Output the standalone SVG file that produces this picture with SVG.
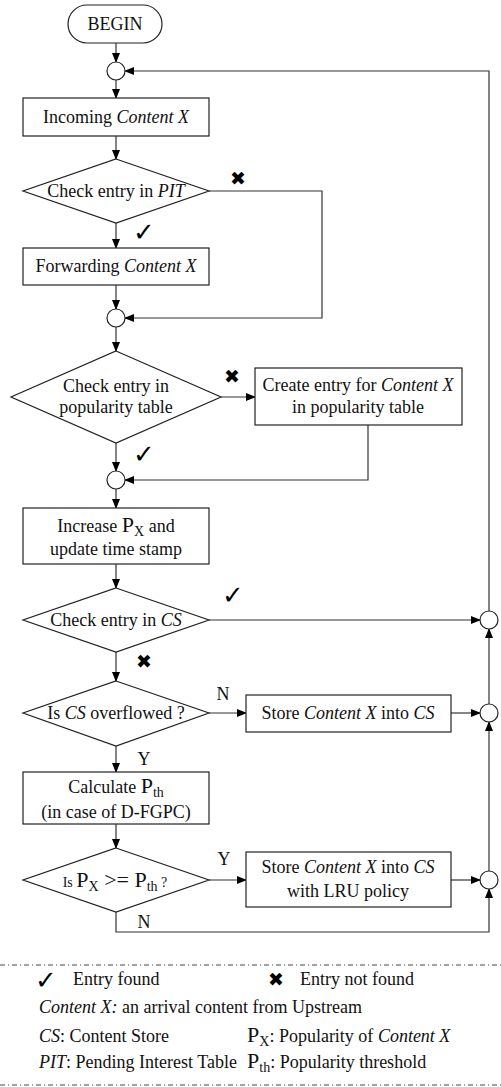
<svg xmlns="http://www.w3.org/2000/svg" width="501" height="1087" viewBox="0 0 501 1087">
<style>
.s{fill:#fff;stroke:#222;stroke-width:1.2}
.c{fill:none;stroke:#333;stroke-width:1.2}
.t{font-family:"Liberation Serif","Times New Roman",serif;font-size:18px;fill:#111}
.m{text-anchor:middle}
.i{font-style:italic}
.sym{font-family:"DejaVu Sans",sans-serif;fill:#000;text-anchor:middle}
.ck{font-size:26px}
.xx{font-size:19px}
.lg{font-size:22px}
.sb{font-size:14px}
.leg{fill:none;stroke:#444;stroke-width:1;stroke-dasharray:5,3,1,3}
</style>
<defs>
<marker id="a" markerWidth="10" markerHeight="8" refX="9" refY="4" orient="auto" markerUnits="userSpaceOnUse">
<path d="M0,0 L10,4 L0,8 z" fill="#000"/>
</marker>
</defs>
<rect width="501" height="1087" fill="#fff"/>

<g id="connectors">
<path class="c" marker-end="url(#a)" d="M116,43 V62"/>
<path class="c" marker-end="url(#a)" d="M116,80 V98"/>
<path class="c" marker-end="url(#a)" d="M116,136 V159"/>
<path class="c" marker-end="url(#a)" d="M116,223 V248"/>
<path class="c" marker-end="url(#a)" d="M209,191 H322 V318 H125"/>
<path class="c" marker-end="url(#a)" d="M116,285 V309"/>
<path class="c" marker-end="url(#a)" d="M116,327 V351"/>
<path class="c" marker-end="url(#a)" d="M221,397 H255"/>
<path class="c" marker-end="url(#a)" d="M368,425 V480 H125"/>
<path class="c" marker-end="url(#a)" d="M116,443 V471"/>
<path class="c" marker-end="url(#a)" d="M116,489 V508"/>
<path class="c" marker-end="url(#a)" d="M116,564 V588"/>
<path class="c" marker-end="url(#a)" d="M209,620 H480"/>
<path class="c" marker-end="url(#a)" d="M116,652 V681"/>
<path class="c" marker-end="url(#a)" d="M209,713 H246"/>
<path class="c" marker-end="url(#a)" d="M451,713 H480"/>
<path class="c" marker-end="url(#a)" d="M489,704 V629"/>
<path class="c" marker-end="url(#a)" d="M116,746 V772"/>
<path class="c" marker-end="url(#a)" d="M116,824 V848"/>
<path class="c" marker-end="url(#a)" d="M209,880 H246"/>
<path class="c" marker-end="url(#a)" d="M451,880 H480"/>
<path class="c" marker-end="url(#a)" d="M489,871 V722"/>
<path class="c" marker-end="url(#a)" d="M116,912 V932 H489 V889"/>
<path class="c" marker-end="url(#a)" d="M489,611 V71 H125"/>
<text class="sym xx" x="238" y="185">✖</text>
<text class="sym ck" x="144" y="241">✓</text>
<text class="sym xx" x="232" y="383">✖</text>
<text class="sym ck" x="144" y="463">✓</text>
<text class="sym ck" x="233" y="604">✓</text>
<text class="sym xx" x="144" y="668">✖</text>
<text class="t m" x="223" y="700">N</text>
<text class="t m" x="144" y="765">Y</text>
<text class="t m" x="224" y="865">Y</text>
<text class="t m" x="144" y="928">N</text>
</g>

<g id="begin">
<rect class="s" x="68" y="5" width="94" height="38" rx="19"/>
<text class="t m" x="115" y="30">BEGIN</text>
</g>
<g id="junction1"><circle class="s" cx="116" cy="71" r="9"/></g>
<g id="incoming">
<rect class="s" x="23" y="98" width="186" height="38"/>
<text class="t m" x="116" y="123">Incoming <tspan class="i">Content X</tspan></text>
</g>
<g id="check-pit">
<polygon class="s" points="116,159 209,191 116,223 23,191"/>
<text class="t m" x="116" y="197">Check entry in <tspan class="i">PIT</tspan></text>
</g>
<g id="forwarding">
<rect class="s" x="23" y="248" width="186" height="37"/>
<text class="t m" x="116" y="272">Forwarding <tspan class="i">Content X</tspan></text>
</g>
<g id="junction2"><circle class="s" cx="116" cy="318" r="9"/></g>
<g id="check-pop">
<polygon class="s" points="116,351 221,397 116,443 11,397"/>
<text class="t m" x="116" y="392">Check entry in</text>
<text class="t m" x="116" y="413">popularity table</text>
</g>
<g id="create-entry">
<rect class="s" x="255" y="368" width="207" height="57"/>
<text class="t m" x="358" y="391">Create entry for <tspan class="i">Content X</tspan></text>
<text class="t m" x="358" y="413">in popularity table</text>
</g>
<g id="junction3"><circle class="s" cx="116" cy="480" r="9"/></g>
<g id="increase">
<rect class="s" x="23" y="508" width="186" height="56"/>
<text class="t m" x="116" y="532">Increase <tspan class="lg">P</tspan><tspan class="sb" dy="4">X</tspan><tspan dy="-4"> and</tspan></text>
<text class="t m" x="116" y="555">update time stamp</text>
</g>
<g id="check-cs">
<polygon class="s" points="116,588 209,620 116,652 23,620"/>
<text class="t m" x="116" y="626">Check entry in <tspan class="i">CS</tspan></text>
</g>
<g id="overflow">
<polygon class="s" points="116,681 209,713 116,746 23,713"/>
<text class="t m" x="116" y="719">Is <tspan class="i">CS</tspan> overflowed ?</text>
</g>
<g id="store1">
<rect class="s" x="246" y="695" width="205" height="37"/>
<text class="t m" x="348" y="719">Store <tspan class="i">Content X</tspan> into <tspan class="i">CS</tspan></text>
</g>
<g id="calc">
<rect class="s" x="23" y="772" width="186" height="52"/>
<text class="t m" x="116" y="793">Calculate <tspan class="lg">P</tspan><tspan class="sb" dy="4">th</tspan></text>
<text class="t m" x="116" y="818">(in case of D-FGPC)</text>
</g>
<g id="compare">
<polygon class="s" points="116,848 209,880 116,912 23,880"/>
<text class="t m" x="115" y="887"><tspan class="sb">Is </tspan><tspan class="lg">P</tspan><tspan class="sb" dy="4">X</tspan><tspan class="lg" dy="-4"> &gt;= P</tspan><tspan class="sb" dy="4">th</tspan><tspan class="sb" dy="-4"> ?</tspan></text>
</g>
<g id="store2">
<rect class="s" x="246" y="852" width="205" height="55"/>
<text class="t m" x="348" y="873">Store <tspan class="i">Content X</tspan> into <tspan class="i">CS</tspan></text>
<text class="t m" x="348" y="897">with LRU policy</text>
</g>
<g id="junctionR1"><circle class="s" cx="489" cy="620" r="9"/></g>
<g id="junctionR2"><circle class="s" cx="489" cy="713" r="9"/></g>
<g id="junctionR3"><circle class="s" cx="489" cy="880" r="9"/></g>

<g id="legend">
<line class="leg" x1="0" y1="965" x2="501" y2="965"/>
<line class="leg" x1="0" y1="1085" x2="501" y2="1085"/>
<text class="sym ck" x="46" y="989">✓</text>
<text class="t" x="73" y="985">Entry found</text>
<text class="sym xx" x="276" y="986">✖</text>
<text class="t" x="300" y="985">Entry not found</text>
<text class="t" x="39" y="1013"><tspan class="i">Content X:</tspan> an arrival content from Upstream</text>
<text class="t" x="39" y="1042"><tspan class="i">CS</tspan>: Content Store</text>
<text class="t" x="247" y="1042"><tspan class="lg">P</tspan><tspan class="sb" dy="4">X</tspan><tspan dy="-4">: Popularity of </tspan><tspan class="i">Content X</tspan></text>
<text class="t" x="39" y="1068"><tspan class="i">PIT</tspan>: Pending Interest Table</text>
<text class="t" x="247" y="1068"><tspan class="lg">P</tspan><tspan class="sb" dy="4">th</tspan><tspan dy="-4">: Popularity threshold</tspan></text>
</g>
</svg>
